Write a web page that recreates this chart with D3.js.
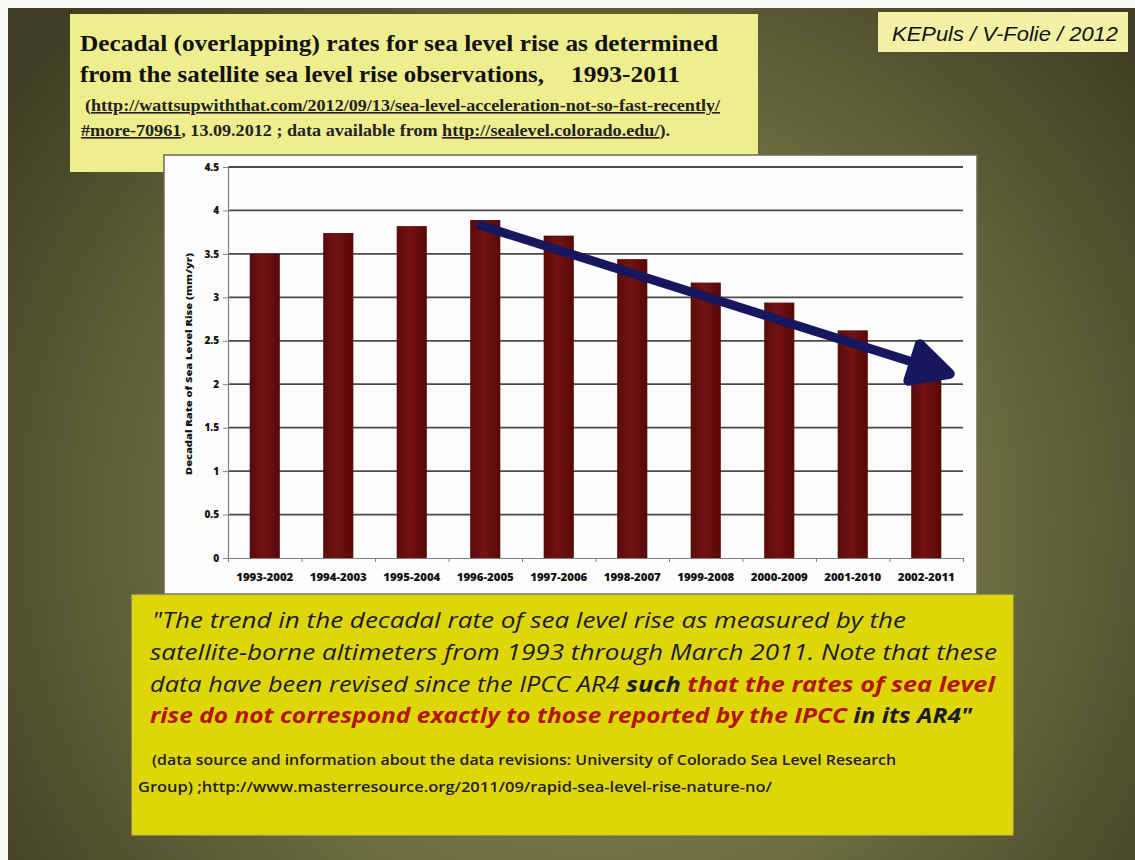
<!DOCTYPE html>
<html><head><meta charset="utf-8">
<script src="https://cdn.jsdelivr.net/npm/d3@7"></script>
<style>html,body{margin:0;padding:0;background:#fff;} svg{display:block;}</style>
</head><body>
<script>
const categories = ["1993-2002","1994-2003","1995-2004","1996-2005","1997-2006","1998-2007","1999-2008","2000-2009","2001-2010","2002-2011"];
const rates = [3.50, 3.74, 3.82, 3.89, 3.71, 3.44, 3.17, 2.94, 2.62, 2.05];
const yTicks = [0, 0.5, 1, 1.5, 2, 2.5, 3, 3.5, 4, 4.5];
const yLabel = "Decadal Rate of Sea Level Rise (mm/yr)";
// trend arrow endpoints: position in category units, value in mm/yr
const trendArrow = [{pos: 3.39, value: 3.84}, {pos: 9.82, value: 2.12}];

const W = 1135, H = 860;
const svg = d3.select("body").append("svg").attr("width", W).attr("height", H);
const defs = svg.append("defs");
const rg = defs.append("radialGradient").attr("id","bg").attr("gradientUnits","userSpaceOnUse")
  .attr("cx",590).attr("cy",520).attr("r",720);
rg.append("stop").attr("offset","0%").attr("stop-color","#8b8b55");
rg.append("stop").attr("offset","55%").attr("stop-color","#6c6c40");
rg.append("stop").attr("offset","100%").attr("stop-color","#3e3e24");
const bg2 = defs.append("linearGradient").attr("id","barg").attr("x1","0").attr("x2","1").attr("y1","0").attr("y2","0");
bg2.append("stop").attr("offset","0%").attr("stop-color","#5a0a0a");
bg2.append("stop").attr("offset","45%").attr("stop-color","#731313");
bg2.append("stop").attr("offset","100%").attr("stop-color","#560808");

svg.append("rect").attr("width",W).attr("height",H).attr("fill","#fbfbf6");
svg.append("rect").attr("x",8).attr("y",8).attr("width",W-8).attr("height",H-8).attr("fill","url(#bg)");

// Title box
svg.append("rect").attr("x",70).attr("y",14).attr("width",688).attr("height",158).attr("fill","#efee8f");
function txt(x, y, size, family, weight, style, fill, len){
  const t = svg.append("text").attr("x",x).attr("y",y).attr("font-size",size)
    .attr("font-family",family).attr("font-weight",weight).attr("font-style",style).attr("fill",fill);
  if (len) t.attr("textLength",len).attr("lengthAdjust","spacingAndGlyphs");
  return t;
}
const serif = "'Liberation Serif','Times New Roman',serif";
txt(80,51,24,serif,"bold","normal","#111",638).text("Decadal (overlapping) rates for sea level rise as determined");
txt(80,82,24,serif,"bold","normal","#111",464).text("from the satellite sea level rise observations,");
txt(571,82,24,serif,"bold","normal","#111",109).text("1993-2011");
const s1 = txt(85,111,16,serif,"bold","normal","#222",635);
s1.append("tspan").text("(");
s1.append("tspan").attr("text-decoration","underline").text("http://wattsupwiththat.com/2012/09/13/sea-level-acceleration-not-so-fast-recently/");
const s2 = txt(81,136,16,serif,"bold","normal","#222",589);
s2.append("tspan").attr("text-decoration","underline").text("#more-70961");
s2.append("tspan").text(", 13.09.2012 ; data available from ");
s2.append("tspan").attr("text-decoration","underline").text("http://sealevel.colorado.edu/");
s2.append("tspan").text(").");

// KEPuls box
svg.append("rect").attr("x",878).attr("y",12).attr("width",250).attr("height",40).attr("fill","#f2f1a6");
txt(892,41,20,"'Liberation Sans',Arial,sans-serif","normal","italic","#111",226).text("KEPuls / V-Folie / 2012");

// Chart image box
svg.append("rect").attr("x",164).attr("y",155).attr("width",813).attr("height",439)
  .attr("fill","#fdfdfd").attr("stroke","#6b6b55").attr("stroke-width",1.5);

const x = d3.scaleBand().domain(categories).range([228, 963]).paddingInner(0.59).paddingOuter(0.295);
const xPos = d3.scaleLinear().domain([0, categories.length]).range([228, 963]);
const y = d3.scaleLinear().domain([0, 4.5]).range([558, 167]);

const g = svg.append("g");
// gridlines
g.selectAll("line.grid").data(yTicks.filter(d=>d>0)).join("line")
  .attr("x1",228).attr("x2",963).attr("y1",d=>y(d)).attr("y2",d=>y(d))
  .attr("stroke","#4a4a4a").attr("stroke-width",1.8);
// y axis
const yAxis = d3.axisLeft(y).tickValues(yTicks).tickSize(5).tickPadding(4).tickFormat(d3.format(""));
const ya = g.append("g").attr("transform","translate(228,0)").call(yAxis);
ya.select(".domain").attr("stroke","#808080").attr("stroke-width",1.2);
ya.selectAll(".tick line").attr("stroke","#808080");
ya.selectAll(".tick text").attr("font-family","'Open Sans',sans-serif").attr("font-weight","800")
  .attr("font-size",10).attr("fill","#111");

// bars
g.selectAll("rect.bar").data(rates).join("rect")
  .attr("x",(d,i)=>x(categories[i])).attr("width",x.bandwidth())
  .attr("y",d=>y(d)).attr("height",d=>y(0)-y(d)).attr("fill","url(#barg)");

// x axis
const xAxis = d3.axisBottom(xPos).tickValues(d3.range(0, categories.length+1)).tickSize(4).tickFormat("");
const xa = g.append("g").attr("transform","translate(0,558)").call(xAxis);
xa.select(".domain").attr("stroke","#808080").attr("stroke-width",1.2);
xa.selectAll(".tick line").attr("stroke","#808080");
g.selectAll("text.xl").data(categories).join("text")
  .attr("x",d=>x(d)+x.bandwidth()/2).attr("y",581).attr("text-anchor","middle")
  .attr("font-family","'Open Sans',sans-serif").attr("font-weight","800").attr("font-size",10.5)
  .attr("textLength",57).attr("lengthAdjust","spacingAndGlyphs").attr("fill","#111").text(d=>d);

// y label
g.append("text").attr("transform","translate(192,364) rotate(-90)").attr("text-anchor","middle")
  .attr("font-family","'Open Sans',sans-serif").attr("font-weight","800").attr("font-size",9.5)
  .attr("textLength",222).attr("lengthAdjust","spacingAndGlyphs").attr("fill","#111").text(yLabel);

// trend arrow
const p0 = [xPos(trendArrow[0].pos), y(trendArrow[0].value)];
const p1 = [xPos(trendArrow[1].pos), y(trendArrow[1].value)];
const ang = Math.atan2(p1[1]-p0[1], p1[0]-p0[0]);
const hl = 42, ha = 27*Math.PI/180;
const b1 = [p1[0]-hl*Math.cos(ang-ha), p1[1]-hl*Math.sin(ang-ha)];
const b2 = [p1[0]-hl*Math.cos(ang+ha), p1[1]-hl*Math.sin(ang+ha)];
const navy = "#17175f";
g.append("line").attr("x1",p0[0]).attr("y1",p0[1]).attr("x2",p1[0]-8*Math.cos(ang)).attr("y2",p1[1]-8*Math.sin(ang))
  .attr("stroke",navy).attr("stroke-width",9);
g.append("path").attr("d",d3.line()([b1,p1,b2]) + "Z").attr("fill",navy).attr("stroke",navy)
  .attr("stroke-width",10).attr("stroke-linejoin","round").attr("stroke-linecap","round");

// Bottom quote box
svg.append("rect").attr("x",132).attr("y",595).attr("width",881).attr("height",240).attr("fill","#dfd60a")
  .attr("stroke","#c9c63e").attr("stroke-width",1);
const qf = "'Open Sans','Noto Sans',sans-serif";
const dark = "#1c1c24", red = "#b0160c";
txt(152,628,22,qf,"normal","italic",dark,754).text("\"The trend in the decadal rate of sea level rise as measured by the");
txt(150,660,22,qf,"normal","italic",dark,847).text("satellite-borne altimeters from 1993 through March 2011. Note that these");
const q3 = txt(150,692,22,qf,"normal","italic",dark,845);
q3.append("tspan").text("data have been revised since the IPCC AR4 ");
q3.append("tspan").attr("font-weight","bold").text("such ");
q3.append("tspan").attr("font-weight","bold").attr("fill",red).text("that the rates of sea level");
const q4 = txt(150,723,22,qf,"bold","italic",red,822);
q4.append("tspan").text("rise do not correspond exactly to those reported by the IPCC ");
q4.append("tspan").attr("fill",dark).text("in its AR4\"");
txt(152,765,14,qf,"600","normal","#222",744).text("(data source and information about the data revisions: University of Colorado Sea Level Research");
txt(138,792,14,qf,"600","normal","#222",634).text("Group) ;http://www.masterresource.org/2011/09/rapid-sea-level-rise-nature-no/");
</script>
</body></html>
